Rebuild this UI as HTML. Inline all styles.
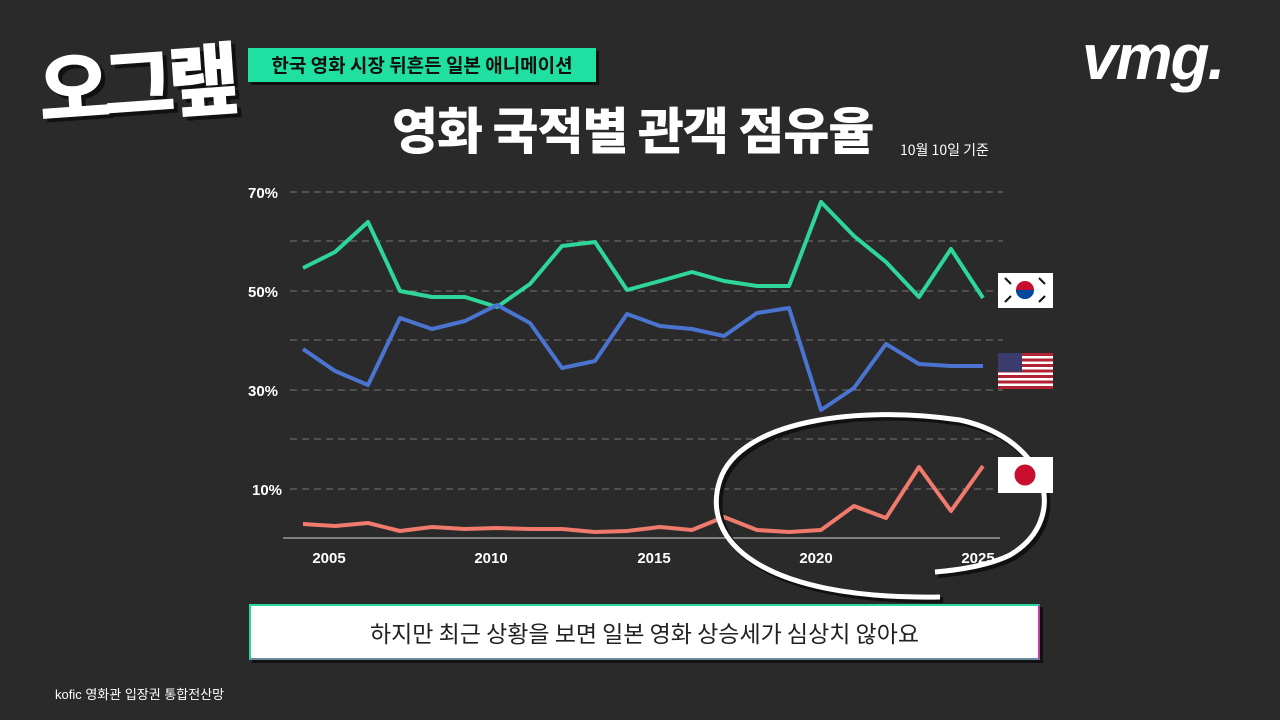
<!DOCTYPE html>
<html><head><meta charset="utf-8"><style>
body{margin:0;width:1280px;height:720px;background:#2a2a2a;overflow:hidden;font-family:"Liberation Sans","Noto Sans CJK KR",sans-serif;position:relative}
.abs{position:absolute}
</style></head><body>
<div class="abs" style="left:38px;top:30px;font-size:78px;font-weight:900;color:#fff;letter-spacing:-7px;transform:rotate(-4deg);text-shadow:4px 4px 0 #111;font-family:'Noto Sans CJK KR',sans-serif;line-height:100px">오그랲</div>
<div class="abs" style="left:248px;top:48px;width:348px;height:34px;background:#1fe0a0;box-shadow:3px 3px 0 #111;font-size:19px;font-weight:bold;color:#111;text-align:center;line-height:34px;font-family:'Noto Sans CJK KR',sans-serif">한국 영화 시장 뒤흔든 일본 애니메이션</div>
<div class="abs" style="left:1082px;top:20px;font-size:64px;font-weight:900;color:#fff;font-style:italic;letter-spacing:-2px">vmg.</div>
<div class="abs" style="left:392px;top:96px;font-size:50px;font-weight:900;color:#fff;font-family:'Noto Sans CJK KR',sans-serif;line-height:64px;letter-spacing:-1px">영화 국적별 관객 점유율</div>
<div class="abs" style="left:900px;top:140px;font-size:14px;color:#fff;font-family:'Noto Sans CJK KR',sans-serif">10월 10일 기준</div>
<svg class="abs" style="left:0;top:0" width="1280" height="720">
<g stroke="#777" stroke-dasharray="7,5" stroke-width="1">
<line x1="290" x2="1003" y1="192" y2="192"/><line x1="290" x2="1003" y1="241" y2="241"/><line x1="290" x2="1003" y1="291" y2="291"/><line x1="290" x2="1003" y1="340" y2="340"/><line x1="290" x2="1003" y1="390" y2="390"/><line x1="290" x2="1003" y1="439" y2="439"/><line x1="290" x2="1003" y1="489" y2="489"/>
</g>
<line x1="283" x2="1000" y1="538" y2="538" stroke="#999" stroke-width="1.5"/>
<g fill="#fff" font-weight="bold" font-size="15" font-family="Liberation Sans">
<text x="248" y="198">70%</text><text x="248" y="297">50%</text><text x="248" y="396">30%</text><text x="252" y="495">10%</text>
<text x="329" y="563" text-anchor="middle">2005</text><text x="491" y="563" text-anchor="middle">2010</text><text x="654" y="563" text-anchor="middle">2015</text><text x="816" y="563" text-anchor="middle">2020</text><text x="978" y="563" text-anchor="middle">2025</text>
</g>
<g fill="none" stroke-width="4" stroke-linejoin="round">
<polyline stroke="#2ed69a" points="303,268 335,252 368,222 400,291 432,297 465,297 497,307 530,284 562,246 595,242 627,290 660,281 692,272 724,281 757,286 789,286 821,202 854,236 886,262 919,297 951,249 983,298"/>
<polyline stroke="#4a74d0" points="303,349 335,371 368,385 400,318 432,329 465,321 497,305 530,323 562,368 595,361 627,314 660,326 692,329 724,336 757,313 789,308 821,410 854,388 886,344 919,364 951,366 983,366"/>
<polyline stroke="#f07a6c" points="303,524 335,526 368,523 400,531 432,527 465,529 497,528 530,529 562,529 595,532 627,531 660,527 692,530 724,517 757,530 789,532 821,530 854,506 886,518 919,467 951,511 983,466"/>
</g>
<path d="M940,597 C760,600 700,540 720,480 C740,420 860,405 960,420 C1050,440 1070,520 1010,555 C990,565 960,570 935,572" fill="none" stroke="#111" stroke-width="6" transform="translate(3,3)"/>
<path d="M940,597 C760,600 700,540 720,480 C740,420 860,405 960,420 C1050,440 1070,520 1010,555 C990,565 960,570 935,572" fill="none" stroke="#fff" stroke-width="5"/>
<rect x="998" y="273" width="55" height="35" fill="#fff"/>
<circle cx="1025" cy="290" r="9" fill="#c8102e"/><path d="M1016,290 a9,9 0 0,0 18,0 z" fill="#0047a0"/>
<g stroke="#111" stroke-width="2"><line x1="1005" y1="278" x2="1011" y2="284"/><line x1="1039" y1="278" x2="1045" y2="284"/><line x1="1005" y1="302" x2="1011" y2="296"/><line x1="1039" y1="302" x2="1045" y2="296"/></g>
<rect x="998" y="353" width="55" height="36" fill="#fff"/>
<g fill="#b22234"><rect x="998" y="353" width="55" height="3"/><rect x="998" y="358.5" width="55" height="3"/><rect x="998" y="364" width="55" height="3"/><rect x="998" y="369.5" width="55" height="3"/><rect x="998" y="375" width="55" height="3"/><rect x="998" y="380.5" width="55" height="3"/><rect x="998" y="386" width="55" height="3"/></g>
<rect x="998" y="353" width="24" height="19" fill="#3c3b6e"/>
<rect x="998" y="457" width="55" height="36" fill="#fff"/><circle cx="1025" cy="475" r="10.5" fill="#c8102e"/>
</svg>
<div class="abs" style="left:249px;top:604px;width:787px;height:52px;background:#fff;border:2px solid #26d6a0;border-right-color:#c03ca0;border-bottom-color:#6a8aa0;box-shadow:3px 3px 0 #111;text-align:center;line-height:52px;font-size:23px;color:#222;font-family:'Noto Sans CJK KR',sans-serif">하지만 최근 상황을 보면 일본 영화 상승세가 심상치 않아요</div>
<div class="abs" style="left:55px;top:684px;font-size:13px;color:#fff;font-family:'Liberation Sans','Noto Sans CJK KR',sans-serif">kofic 영화관 입장권 통합전산망</div>
</body></html>
